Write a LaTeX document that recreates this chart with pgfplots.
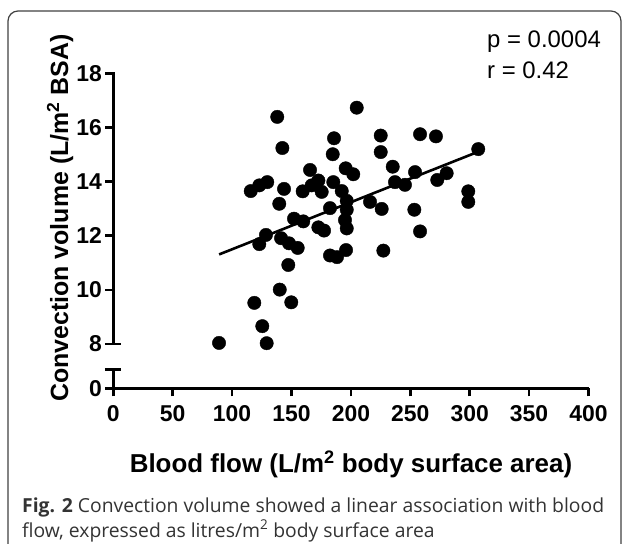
\documentclass[border=0pt]{standalone}
\usepackage{pgfplots}
\pgfplotsset{compat=1.18}
\usepackage{fontspec}
\setmainfont{Liberation Sans}
\newfontfamily\capfont{Open Sans}
\pgfplotstableread{
x y
89.0 8.04
129.1 8.03
125.4 8.66
118.7 9.52
149.8 9.54
140.1 10.01
147.3 10.92
122.9 11.69
128.5 12.03
141.2 11.91
147.9 11.72
155.2 11.55
152.1 12.63
159.9 12.53
172.6 12.31
177.4 12.19
182.4 11.27
188.3 11.21
182.4 13.02
196.5 12.96
195.0 12.58
196.5 12.27
195.9 11.47
227.3 11.45
253.4 12.96
258.2 12.16
204.9 16.73
185.8 15.60
184.7 15.01
225.1 15.70
225.1 15.09
258.2 15.75
271.6 15.67
307.2 15.20
195.6 14.49
202.0 14.27
235.2 14.55
254.0 14.35
280.6 14.31
272.7 14.06
185.2 13.98
192.3 13.65
237.1 13.98
245.5 13.88
196.5 13.29
216.1 13.25
225.9 12.99
298.8 13.64
298.8 13.25
138.0 16.39
142.3 15.24
165.6 14.43
115.7 13.65
122.9 13.86
129.6 13.98
143.7 13.73
139.7 13.18
159.4 13.64
167.0 13.86
172.6 14.04
175.4 13.62
}\pts
\begin{document}
\begin{tikzpicture}[x=1bp,y=1bp]
\useasboundingbox (0,0) rectangle (627,-544);
\draw[black!75, line width=1.2bp, rounded corners=10bp] (8,-11) rectangle (621,-556);
\begin{axis}[
  at={(113.3bp,-388.3bp)}, anchor=south west,
  scale only axis, width=475.2bp, height=315bp,
  xmin=0, xmax=400, ymin=6.364, ymax=18,
  axis x line*=bottom, axis y line*=left,
  y axis line style={draw=none},
  x axis line style={line width=2.6bp, -},
  xtick={0,50,...,400},
  ytick={6.364,8,10,12,14,16,18},
  yticklabels={0,8,10,12,14,16,18},
  tick align=outside,
  major tick length=8bp,
  tick style={black, line width=2.6bp},
  /pgf/number format/assume math mode=true,
  tick label style={font=\bfseries\fontsize{23}{23}\selectfont},
  xticklabel style={inner sep=0pt, yshift=-8.5bp},
  yticklabel style={inner sep=0pt, xshift=-3.3bp},
  clip=false,
]
\addplot[only marks, mark=*, mark size=6.7bp, black] table[x=x,y=y] {\pts};
\addplot[black, line width=2.6bp] coordinates {(89.1,11.31) (307,15.10)};
\draw[line width=2.6bp, line cap=rect] (axis cs:0,6.364) -- (axis cs:0,7.065);
\draw[line width=2.6bp] (axis cs:-7,7.065) -- (axis cs:6.2,7.065);
\draw[line width=2.6bp, line cap=rect] (axis cs:0,8) -- (axis cs:0,18);
\draw[line width=2.6bp] (axis cs:-7,8) -- (axis cs:6.2,8);
\end{axis}
\node[rotate=90, font=\bfseries\fontsize{25}{25}\selectfont] at (60,-218) {Convection volume (L/m\textsuperscript{2} BSA)};
\node[anchor=base, font=\bfseries\fontsize{26}{26}\selectfont] at (351,-472) {Blood flow (L/m\textsuperscript{2} body surface area)};
\node[anchor=base west, inner sep=0pt, font=\fontsize{24}{24}\selectfont] at (487,-48) {p = 0.0004};
\node[anchor=base west, inner sep=0pt, font=\fontsize{24}{24}\selectfont] at (487,-79) {r = 0.42};
\node[anchor=base west, inner sep=0pt, text=black!80, font=\capfont\fontsize{19.4}{19.4}\selectfont] at (22,-512) {\textbf{Fig. 2} Convection volume showed a linear association with blood};
\node[anchor=base west, inner sep=0pt, text=black!80, font=\capfont\fontsize{19.4}{19.4}\selectfont] at (22,-537) {flow, expressed as litres/m\textsuperscript{2} body surface area};
\end{tikzpicture}
\end{document}
